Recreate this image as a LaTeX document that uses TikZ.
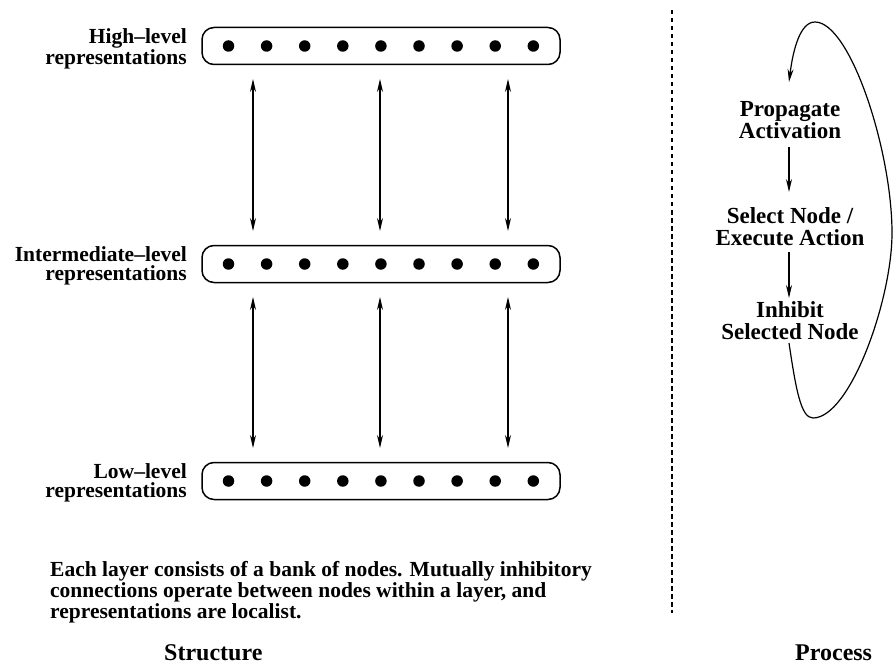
\documentclass[tikz,border=0pt]{standalone}
\usepackage{fontspec}
\setmainfont{Liberation Serif}
\usetikzlibrary{arrows.meta}
\begin{document}
\begin{tikzpicture}[x=1pt,y=-1pt,
  txt/.style={font=\bfseries\fontsize{21.5}{19.5}\selectfont, inner sep=0pt},
  ptxt/.style={font=\bfseries\fontsize{23}{22}\selectfont, inner sep=0pt, align=center},
  ttl/.style={font=\bfseries\fontsize{24}{24}\selectfont, inner sep=0pt},
  lbl/.style={txt, align=right, anchor=east},
  layerbox/.style={draw, line width=1.5pt, rounded corners=12pt, minimum width=358pt, minimum height=37pt, inner sep=0pt},
  unit/.style={circle, fill=black, minimum size=11.5pt, inner sep=0pt},
  link/.style={line width=1.2pt, {Stealth[length=13pt,width=6pt]}-{Stealth[length=13pt,width=6pt]}},
  arr/.style={line width=1.2pt, -{Stealth[length=13pt,width=6pt]}},
  sep/.style={line width=1.2pt, dash pattern=on 4.5pt off 3.5pt}
]
\useasboundingbox (0,0) rectangle (895,666);

% layers
\foreach \n/\y in {hi/46, mid/264, lo/481}{
  \node[layerbox] (\n) at (381,\y) {};
  \foreach \i in {0,...,8}{
    \node[unit] (\n\i) at (228.5+38.1*\i,\y) {};
  }
}
\node[lbl] (hil) at (187,49) {High--level\\representations};
\node[lbl] (midl) at (187,266) {Intermediate--level\\representations};
\node[lbl] (lol) at (187,483) {Low--level\\representations};

% vertical connections
\foreach \k/\x in {1/253, 2/380, 3/508}{
  \coordinate (a\k) at (\x,79);
  \coordinate (b\k) at (\x,231);
  \coordinate (c\k) at (\x,297);
  \coordinate (d\k) at (\x,448);
  \draw[link] (a\k) -- (b\k);
  \draw[link] (c\k) -- (d\k);
}

% caption
\node[txt, align=left, anchor=base west] (cap) at (50,618) {Each layer consists of a bank of nodes. Mutually inhibitory\\connections operate between nodes within a layer, and\\representations are localist.};
\node[ttl, anchor=base west] (struct) at (164,660) {Structure};
\node[ttl, anchor=base west] (proc) at (795,660) {Process};

% separator
\coordinate (s1) at (672,10);
\coordinate (s2) at (672,613);
\draw[sep] (s1) -- (s2);

% process
\node[ptxt] (prop) at (790,120) {Propagate\\Activation};
\node[ptxt] (sel) at (790,227) {Select Node /\\Execute Action};
\node[ptxt] (inh) at (790,321) {Inhibit\\Selected Node};
\coordinate (p1) at (789,147);
\coordinate (p2) at (789,192);
\coordinate (p3) at (789,252);
\coordinate (p4) at (789,298);
\draw[arr] (p1) -- (p2);
\draw[arr] (p3) -- (p4);
\coordinate (ls) at (789,343);
\coordinate (le) at (789,82);
\draw[arr] (ls) .. controls (796,390) and (801,418) .. (813,418)
  .. controls (850,418) and (892,300) .. (892,233)
  .. controls (892,150) and (850,22) .. (815,22)
  .. controls (800,22) and (793,50) .. (le);
\end{tikzpicture}
\end{document}
